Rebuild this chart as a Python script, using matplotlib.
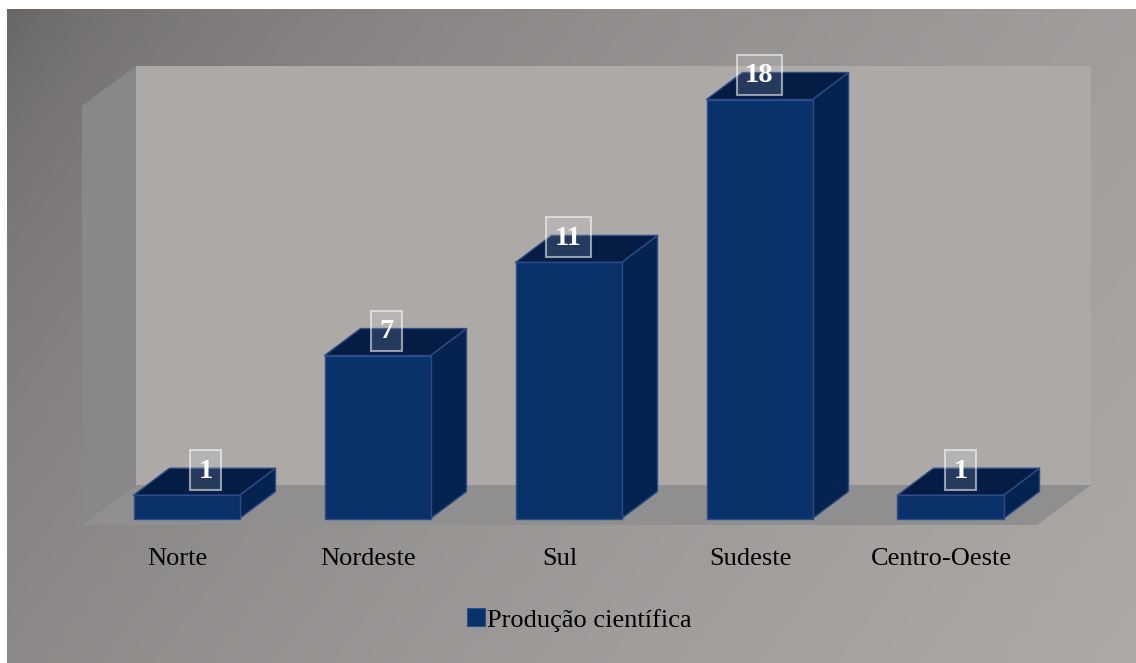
import matplotlib
matplotlib.use("Agg")
import matplotlib.pyplot as plt
from matplotlib.patches import Polygon, Rectangle
import numpy as np

regions = ["Norte", "Nordeste", "Sul", "Sudeste", "Centro-Oeste"]
producao = [1, 7, 11, 18, 1]
series_name = "Produção científica"

W, H, DPI = 1136, 663, 100

BAR_FRONT = "#09316a"
BAR_SIDE = "#04244f"
BAR_TOP = "#051d44"
BAR_EDGE = "#2d4c86"
WALL_BACK = "#aca9a7"
WALL_LEFT = "#888888"
FLOOR = "#8f8f8f"

plt.rcParams["font.family"] = ["Liberation Serif", "DejaVu Serif"]

fig = plt.figure(figsize=(W / DPI, H / DPI), dpi=DPI)
fig.patch.set_facecolor("white")

# grey backdrop, dark in the upper left corner
bg = fig.add_axes([7 / W, 0, 1 - 7 / W, 1 - 9 / H])
bg.set_axis_off()
gx, gy = np.meshgrid(np.linspace(0, 1, 400), np.linspace(0, 1, 240))
t = np.sqrt(0.7 * gx + 0.3 * gy)
dark = np.array([0x64, 0x62, 0x61]) / 255
light = np.array([0xac, 0xa9, 0xa7]) / 255
bg.imshow(dark + t[..., None] * (light - dark), aspect="auto", interpolation="bilinear")

# front plane of the floor: categories along x, values along y
ax = fig.add_axes([82 / W, (H - 525) / H, (1037 - 82) / W, (525 - 106) / H])
ax.set_xlim(-0.5, len(regions) - 0.5)
ax.set_ylim(0, max(producao))
ax.patch.set_alpha(0)
for s in ax.spines.values():
    s.set_visible(False)
ax.set_yticks([])
ax.set_xticks(range(len(regions)), regions)
ax.tick_params(axis="x", length=0, pad=16.5, labelsize=19, labelcolor="black")

sx = ax.bbox.width / (len(regions))
sy = ax.bbox.height / max(producao)


def px(dx, dy):
    # pixel offset -> data offset
    return dx / sx, dy / sy


x_lo, x_hi = ax.get_xlim()
y_top = ax.get_ylim()[1]
wdx, wdy = px(54, 40)

walls = [
    ([(x_lo + wdx, wdy), (x_hi + wdx, wdy), (x_hi + wdx, y_top + wdy), (x_lo + wdx, y_top + wdy)], WALL_BACK),
    ([(x_lo, 0), (x_lo + wdx, wdy), (x_lo + wdx, y_top + wdy), (x_lo, y_top)], WALL_LEFT),
    ([(x_lo, 0), (x_hi, 0), (x_hi + wdx, wdy), (x_lo + wdx, wdy)], FLOOR),
]
for pts, c in walls:
    ax.add_patch(Polygon(pts, closed=True, facecolor=c, edgecolor="none", clip_on=False, zorder=1))

fx, fy = px(9, 6.5)
ddx, ddy = px(36, 27)
hw = 53 / sx
label_dx = [19, 9, 0, 0, 10]

for i, v in enumerate(producao):
    x0, x1 = i + fx - hw, i + fx + hw
    y0, y1 = fy, fy + v
    faces = [
        ([(x1, y0), (x1 + ddx, y0 + ddy), (x1 + ddx, y1 + ddy), (x1, y1)], BAR_SIDE),
        ([(x0, y1), (x1, y1), (x1 + ddx, y1 + ddy), (x0 + ddx, y1 + ddy)], BAR_TOP),
        ([(x0, y0), (x1, y0), (x1, y1), (x0, y1)], BAR_FRONT),
    ]
    for pts, c in faces:
        ax.add_patch(Polygon(pts, closed=True, facecolor=c, edgecolor=BAR_EDGE,
                             linewidth=1, joinstyle="round", clip_on=False, zorder=3))

    # value tag sitting on the top face
    s = str(v)
    bw, bh = (14 * len(s) + 17) / sx, 40 / sy
    cx = i + fx + label_dx[i] / sx
    cy = y1 + 25 / sy
    ax.add_patch(Rectangle((cx - bw / 2, cy - bh / 2), bw, bh, facecolor=(1, 1, 1, 0.13),
                           edgecolor=(1, 1, 1, 0.55), linewidth=1.5, clip_on=False, zorder=4))
    ax.text(cx, cy - 1 / sy, s, ha="center", va="center", color="white", fontsize=20.5,
            fontweight="bold", zorder=5)

handle = Rectangle((0, 0), 1, 1, facecolor=BAR_FRONT, edgecolor=BAR_EDGE, linewidth=0.8)
fig.legend([handle], [series_name], loc="center", bbox_to_anchor=(579.5 / W, 1 - 620 / H),
           frameon=False, fontsize=19, handlelength=0.68, handleheight=0.68, handletextpad=0.1)

fig.savefig("out.png", dpi=DPI)
